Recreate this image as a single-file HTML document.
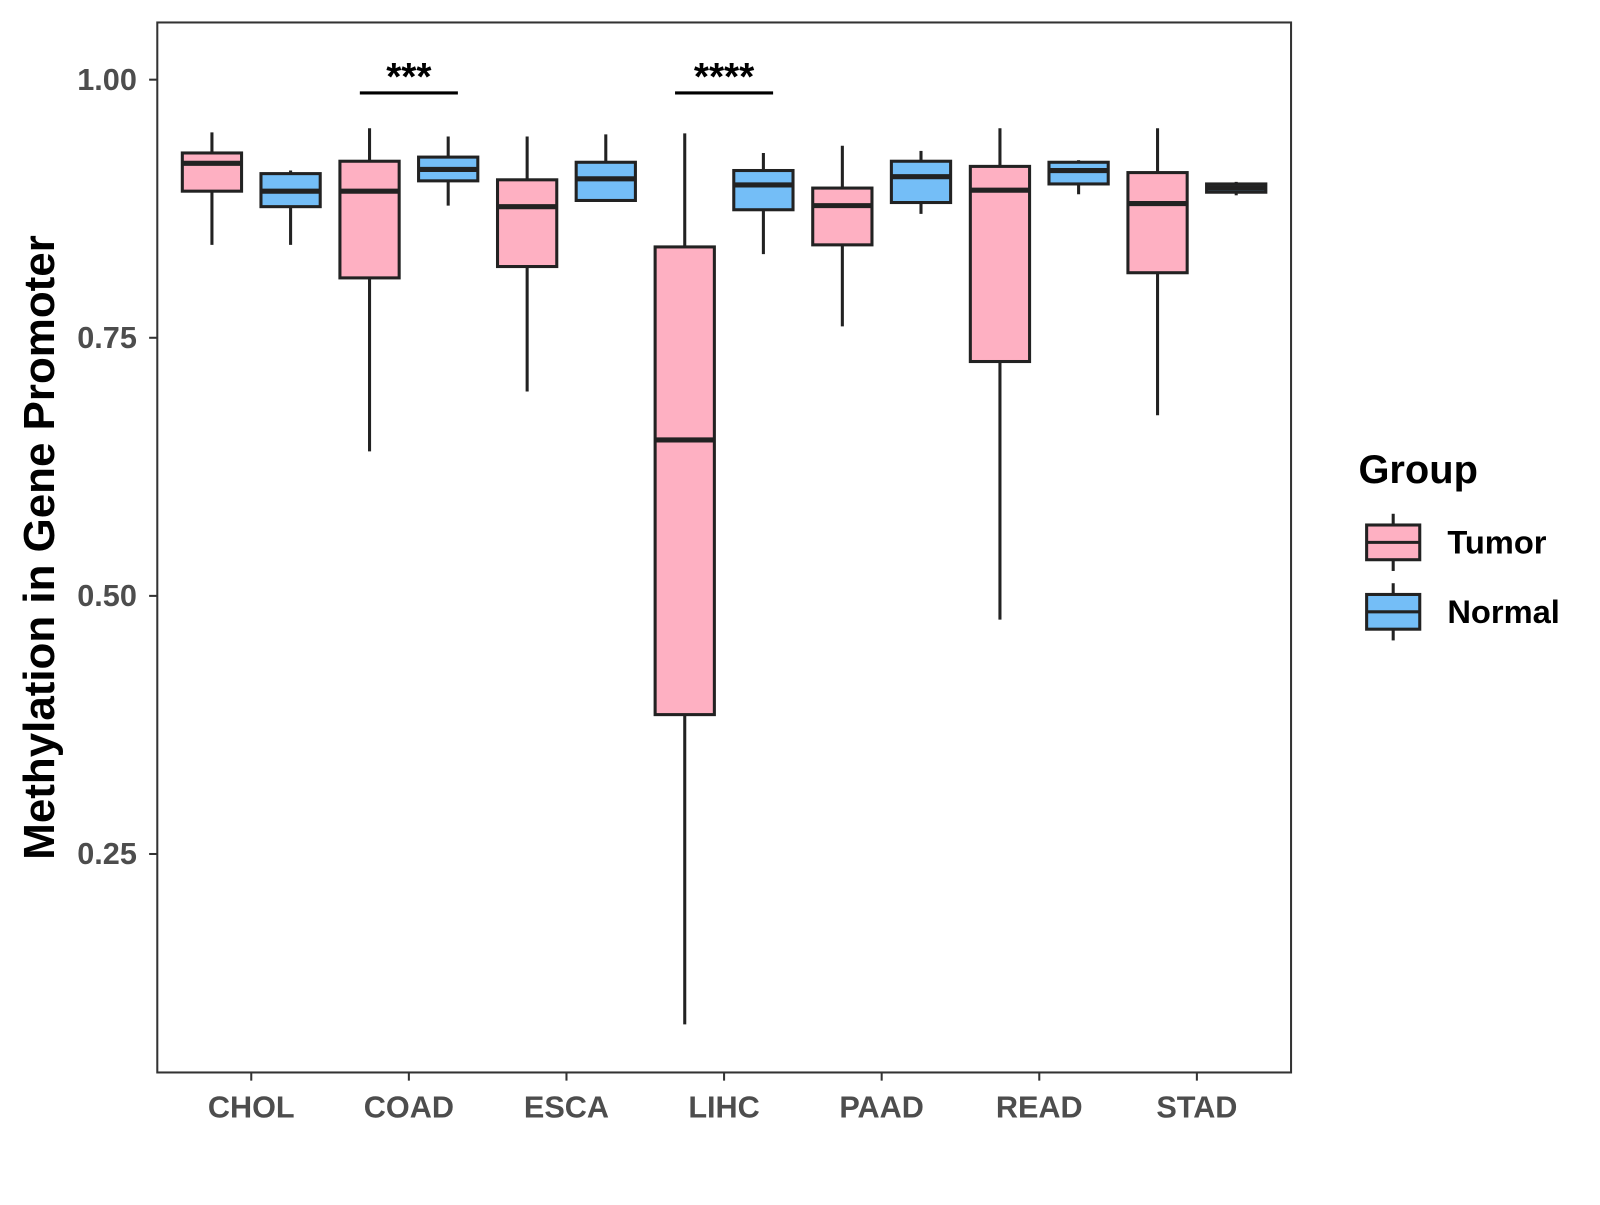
<!DOCTYPE html>
<html><head><meta charset="utf-8"><style>
body{margin:0;background:#fff;}
svg text{font-family:"Liberation Sans",Arial,sans-serif;font-weight:bold;}
</style></head><body>
<svg id="chart" width="1600" height="1200" xmlns="http://www.w3.org/2000/svg"><g id="root" transform="scale(1.0214)"></g></svg>
<script>
const categories=["CHOL","COAD","ESCA","LIHC","PAAD","READ","STAD"];
const tumorStats=[
[0.840,0.892,0.919,0.929,0.949],
[0.640,0.808,0.892,0.921,0.953],
[0.698,0.819,0.877,0.903,0.945],
[0.085,0.385,0.651,0.838,0.948],
[0.761,0.840,0.878,0.895,0.936],
[0.477,0.727,0.893,0.916,0.953],
[0.675,0.813,0.880,0.910,0.953]];
const normalStats=[
[0.840,0.877,0.892,0.909,0.912],
[0.878,0.902,0.913,0.925,0.945],
[0.883,0.883,0.904,0.920,0.947],
[0.831,0.874,0.898,0.912,0.929],
[0.870,0.881,0.906,0.921,0.931],
[0.889,0.899,0.912,0.920,0.922],
[0.888,0.891,0.895,0.899,0.901]];
const yTicks=[0.25,0.50,0.75,1.00];
const yTickLabels=["0.25","0.50","0.75","1.00"];
const sigCats=[1,3];
const sigLabels=["***","****"];

const NS="http://www.w3.org/2000/svg";
const svg=document.getElementById("root");
const L=154,R=1264,T=22,B=1050;
const y=v=>78+(1-v)*1010.8;
const x=i=>246+i*154.3;
function mk(tag,attrs,parent){const e=document.createElementNS(NS,tag);for(const k in attrs)e.setAttribute(k,attrs[k]);(parent||svg).appendChild(e);return e;}

const panel=mk("rect",{x:L,y:T,width:R-L,height:B-T,fill:"none",stroke:"#333","stroke-width":2});



yTicks.forEach((t,i)=>{
  const g=mk("g",{});
  
  
  mk("line",{x1:L-8,x2:L,y1:y(t),y2:y(t),stroke:"#333","stroke-width":2},g);
  const tx=mk("text",{x:L-20,y:y(t)+10,"text-anchor":"end","font-size":30,fill:"#4d4d4d"},g);
  tx.textContent=yTickLabels[i];
});
categories.forEach((c,i)=>{
  const g=mk("g",{});
  
  
  mk("line",{x1:x(i),x2:x(i),y1:B,y2:B+8,stroke:"#333","stroke-width":2},g);
  const tx=mk("text",{x:x(i),y:1094,"text-anchor":"middle","font-size":30,fill:"#4d4d4d"},g);
  tx.textContent=c;
});

function box(cx,s,fill,name){
  const g=mk("g",{});
  
  
  const w=58;
  mk("line",{x1:cx,x2:cx,y1:y(s[4]),y2:y(s[0]),stroke:"#222","stroke-width":3},g);
  mk("rect",{x:cx-w/2,y:y(s[3]),width:w,height:Math.max(y(s[1])-y(s[3]),1),fill:fill,stroke:"#222","stroke-width":3},g);
  mk("line",{x1:cx-w/2,x2:cx+w/2,y1:y(s[2]),y2:y(s[2]),stroke:"#222","stroke-width":5},g);
}
categories.forEach((c,i)=>{
  box(x(i)-38.5,tumorStats[i],"#FEB0C2","box-tumor-"+c.toLowerCase());
  box(x(i)+38.5,normalStats[i],"#74BEF7","box-normal-"+c.toLowerCase());
});
sigCats.forEach((ci,k)=>{
  const g=mk("g",{});
  
  
  mk("line",{x1:x(ci)-48,x2:x(ci)+48,y1:91,y2:91,stroke:"#000","stroke-width":3},g);
  const t=mk("text",{x:x(ci),y:88,"text-anchor":"middle","font-size":38,fill:"#000"},g);
  t.textContent=sigLabels[k];
});

const yt=mk("text",{x:0,y:0,"text-anchor":"middle","font-size":43,fill:"#000",transform:"translate(53,536) rotate(-90)"});
yt.textContent="Methylation in Gene Promoter";



const lg=mk("g",{});


const lt=mk("text",{x:1330,y:473,"font-size":39,fill:"#000"},lg);
lt.textContent="Group";
[["Tumor","#FEB0C2",531],["Normal","#74BEF7",599]].forEach(([n,f,cy])=>{
  const g=mk("g",{},lg);
  
  
  mk("line",{x1:1364,x2:1364,y1:cy-28,y2:cy+28,stroke:"#222","stroke-width":3},g);
  mk("rect",{x:1338,y:cy-17,width:52,height:34,fill:f,stroke:"#222","stroke-width":3},g);
  mk("line",{x1:1338,x2:1390,y1:cy,y2:cy,stroke:"#222","stroke-width":3},g);
  const t=mk("text",{x:1417,y:cy+11,"font-size":32,fill:"#000"},g);
  t.textContent=n;
});
</script>
</body></html>
